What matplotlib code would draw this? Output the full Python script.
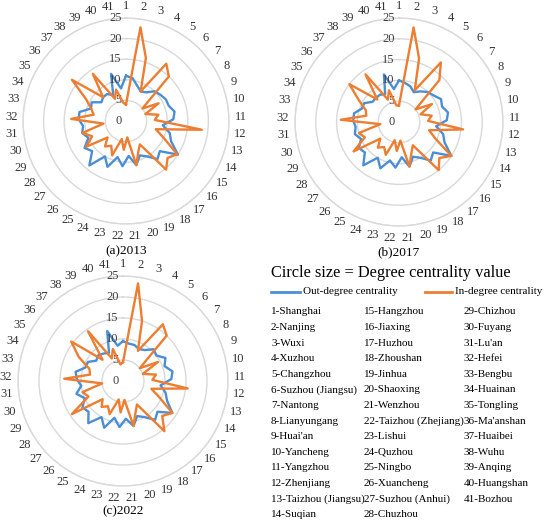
"""
Radar charts of out-degree / in-degree centrality for 41 YRD cities, 2013/2017/2022.
"""

import matplotlib.pyplot as plt
import numpy as np

CITIES = [
    "Shanghai", "Nanjing", "Wuxi", "Xuzhou", "Changzhou", "Suzhou (Jiangsu)",
    "Nantong", "Lianyungang", "Huai'an", "Yancheng", "Yangzhou", "Zhenjiang",
    "Taizhou (Jiangsu)", "Suqian", "Hangzhou", "Jiaxing", "Huzhou", "Zhoushan",
    "Jinhua", "Shaoxing", "Wenzhou", "Taizhou (Zhejiang)", "Lishui", "Quzhou",
    "Ningbo", "Xuancheng", "Suzhou (Anhui)", "Chuzhou", "Chizhou", "Fuyang",
    "Lu'an", "Hefei", "Bengbu", "Huainan", "Tongling", "Ma'anshan", "Huaibei",
    "Wuhu", "Anqing", "Huangshan", "Bozhou",
]

OUT_2013 = [11, 10.5, 9, 8, 8.5, 10, 10.5, 11, 11, 12, 11.5, 9, 11, 12, 15,
            11, 12, 10, 9, 11, 8.5, 11, 9, 12, 10, 14, 11, 12, 10, 11, 10.5,
            11.5, 11.5, 9, 9.5, 7.5, 8, 8, 7, 12, 8]
IN_2013 = [4, 23, 16, 8, 17, 15, 5, 9, 5, 8, 7, 18.5, 7.5, 10, 14.8, 13.5, 15.3,
           6.6, 8, 11, 4, 7, 4.5, 9, 7, 8, 6, 11.5, 9, 11, 5.5, 13.3, 8, 9, 11,
           16.5, 8, 14, 6, 8, 4.5]

OUT_2017 = [10, 9.5, 9, 8, 9, 10, 10.5, 11.5, 11, 12, 11.5, 9, 11, 12, 15, 11,
            12, 10, 9, 11, 8.5, 11, 9.5, 12, 10, 13.5, 11, 11.5, 10, 11, 10.5,
            11, 11, 9.5, 9.5, 8, 8, 8, 7.5, 12, 8]
IN_2017 = [4, 23, 16, 8.5, 17.5, 14, 5, 9, 5.5, 8, 7, 15.5, 7.5, 9.5, 15, 13,
           15, 6.5, 8, 11, 4.5, 7, 4.5, 8.5, 7, 8, 6, 13, 9, 10, 4.5, 14, 8,
           8.5, 11, 15, 7.5, 14, 6, 8, 4]

OUT_2022 = [9.5, 9, 9, 8.5, 9, 10.5, 10, 11.5, 10.5, 12, 11.5, 9, 10.5, 11.5,
            14, 11, 12, 10, 9, 11, 9, 11, 9, 12, 10, 13, 11, 11.5, 10, 11.5,
            10, 11, 11.5, 9.5, 9.5, 8, 8.5, 8, 7.5, 12.5, 8.5]
IN_2022 = [4.5, 23.5, 15, 8, 16.5, 15, 5, 9.5, 5, 8, 7, 15.5, 7, 9.5, 14, 12.5,
           15.5, 6.5, 8, 11, 4.5, 7.5, 4.5, 8.5, 7, 8, 6.5, 14.5, 9, 10, 5, 14,
           8, 8.5, 12, 15.5, 7, 14.5, 6, 8, 4]

RINGS = [5, 10, 15, 20, 25]
RING_LABELS = [0, 5, 10, 15, 20, 25]

BLUE = "#4A8FD6"
ORANGE = "#ED7D31"
GRID = "#D9D9D9"
FONT = ["Liberation Serif", "DejaVu Serif"]

W, H = 550, 525


def radar(fig, cx, cy, radius, out_vals, in_vals, caption):
    """Draw one radar panel centred at pixel (cx, cy)."""
    rect = [(cx - radius) / W, 1 - (cy + radius) / H, 2 * radius / W, 2 * radius / H]
    ax = fig.add_axes(rect, projection="polar")
    ax.set_theta_zero_location("N")
    ax.set_theta_direction(-1)
    ax.set_ylim(0, 25)

    n = len(CITIES)
    theta = np.linspace(0, 2 * np.pi, n, endpoint=False)
    closed = np.append(theta, theta[0])

    ax.plot(closed, np.append(out_vals, out_vals[0]), color=BLUE, lw=1.7, zorder=3)
    ax.plot(closed, np.append(in_vals, in_vals[0]), color=ORANGE, lw=1.7, zorder=4)

    ax.set_yticks(RINGS)
    ax.set_yticklabels([])
    ax.set_xticks([])
    ax.yaxis.grid(True, color=GRID, lw=1.0)
    ax.xaxis.grid(False)
    ax.spines["polar"].set_color(GRID)
    ax.spines["polar"].set_linewidth(1.0)
    ax.set_facecolor("none")

    for v in RING_LABELS:
        ax.annotate(str(v), xy=(0, v), xytext=(-3, 0), textcoords="offset points",
                    ha="right", va="center", fontsize=9, family=FONT, color="#404040")

    for i, t in enumerate(theta):
        ax.text(t, 27.9, str(i + 1), ha="center", va="center",
                fontsize=9, family=FONT, color="#333333")

    fig.text(cx / W, 1 - (cy + 130) / H, caption, ha="center", va="center",
             fontsize=9.5, family=FONT)


def main():
    fig = plt.figure(figsize=(W / 100, H / 100), dpi=100)
    fig.patch.set_facecolor("white")

    radar(fig, 126, 121, 103, OUT_2013, IN_2013, "(a)2013")
    radar(fig, 399, 122, 104, OUT_2017, IN_2017, "(b)2017")
    radar(fig, 123, 381, 105, OUT_2022, IN_2022, "(c)2022")

    # legend panel
    fig.text(271 / W, 1 - 273 / H, "Circle size = Degree centrality value",
             ha="left", va="center", fontsize=11.8, family=FONT)
    fig.add_artist(plt.Line2D([271 / W, 300 / W], [1 - 292 / H] * 2, color=BLUE, lw=2))
    fig.text(303 / W, 1 - 292 / H, "Out-degree centrality", ha="left", va="center",
             fontsize=8, family=FONT)
    fig.add_artist(plt.Line2D([425 / W, 452 / W], [1 - 292 / H] * 2, color=ORANGE, lw=2))
    fig.text(455 / W, 1 - 292 / H, "In-degree centrality", ha="left", va="center",
             fontsize=8, family=FONT)

    col_x = [271, 364, 464]
    for k, name in enumerate(CITIES):
        col, row = divmod(k, 14)
        y = 312 + row * 15.6
        fig.text(col_x[col] / W, 1 - y / H, f"{k + 1}-{name}", ha="left",
                 va="center", fontsize=8, family=FONT)

    fig.savefig("out.png", dpi=100)
    plt.close(fig)


if __name__ == "__main__":
    main()
